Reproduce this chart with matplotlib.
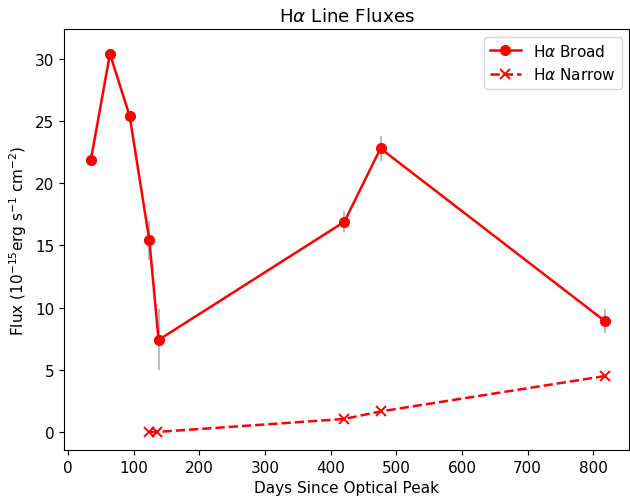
import matplotlib
matplotlib.use("Agg")
import matplotlib.pyplot as plt

broad_days = [35, 64, 94, 124, 138, 421, 476, 818]
broad_flux = [21.9, 30.4, 25.4, 15.4, 7.4, 16.9, 22.8, 8.9]
broad_err = [0.5, 0.3, 0.3, 1.6, 2.45, 0.85, 1.0, 0.95]

narrow_days = [124, 136, 421, 476, 818]
narrow_flux = [0.0, 0.0, 1.05, 1.65, 4.5]

plt.rcParams['font.size'] = 11

fig = plt.figure(figsize=(6.3, 5.02), dpi=100)
ax = fig.add_axes([64/630, 1-451/502, (630-64)/630 - 0.001, (451-30)/502])

ax.errorbar(broad_days, broad_flux, yerr=broad_err, fmt='none', ecolor='#b0b0b0', elinewidth=1.2, zorder=1)
ax.plot(broad_days, broad_flux, '-o', color='red', label=r'H$\alpha$ Broad', zorder=2, lw=1.8, ms=7)
ax.plot(narrow_days, narrow_flux, '--x', color='red', label=r'H$\alpha$ Narrow', zorder=2, lw=1.8, ms=6.5, mew=1.4)

ax.set_xlim(-6, 855)
ax.set_ylim(-1.45, 32.4)
ax.set_xlabel('Days Since Optical Peak')
ax.set_ylabel(r'Flux (10$^{-15}$erg s$^{-1}$ cm$^{-2}$)')
ax.set_title(r'H$\alpha$ Line Fluxes')
ax.legend(loc='upper right')

fig.savefig('out.png', dpi=100)
